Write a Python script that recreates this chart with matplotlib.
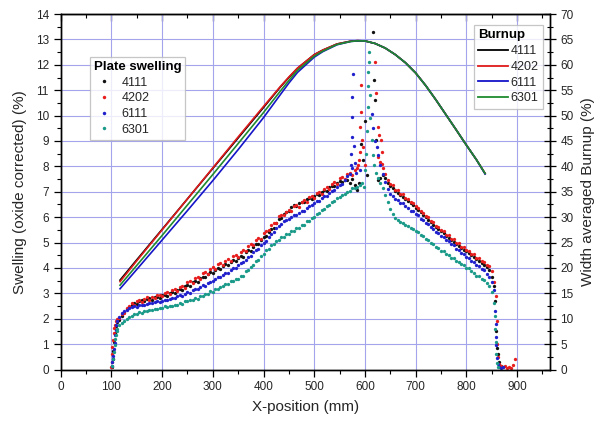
import matplotlib
matplotlib.use("Agg")
import matplotlib.pyplot as plt
from matplotlib.ticker import MultipleLocator
from matplotlib.lines import Line2D

plt.rcParams["font.family"] = ["Liberation Sans", "DejaVu Sans"]

# ---- data -------------------------------------------------------------
plates = ["4111", "4202", "6111", "6301"]

# swelling band sampled every 5 mm on both flanks of the centre peak
left_x = list(range(115, 581, 5))
right_x = list(range(625, 856, 5))

sw_4111_left = [
    1.96, 2.10, 2.28, 2.38, 2.45, 2.54, 2.62, 2.59, 2.70, 2.73,
    2.68, 2.77, 2.80, 2.74, 2.84, 2.86, 2.82, 2.92, 2.94, 2.91,
    3.03, 3.05, 3.01, 3.14, 3.17, 3.13, 3.29, 3.32, 3.28, 3.45,
    3.49, 3.44, 3.61, 3.66, 3.63, 3.77, 3.83, 3.80, 3.93, 3.99,
    3.96, 4.09, 4.15, 4.12, 4.24, 4.30, 4.28, 4.41, 4.47, 4.45,
    4.61, 4.69, 4.68, 4.84, 4.94, 4.96, 5.11, 5.21, 5.25, 5.42,
    5.53, 5.58, 5.78, 5.92, 5.98, 6.14, 6.20, 6.26, 6.40, 6.46,
    6.44, 6.56, 6.60, 6.58, 6.70, 6.74, 6.72, 6.84, 6.90, 6.88,
    7.00, 7.06, 7.04, 7.18, 7.24, 7.22, 7.36, 7.42, 7.40, 7.48,
    7.46, 7.36, 7.50, 7.26,
]
sw_4202_left = [
    2.02, 2.17, 2.23, 2.42, 2.50, 2.63, 2.56, 2.70, 2.75, 2.67,
    2.78, 2.84, 2.75, 2.87, 2.82, 2.93, 2.95, 2.88, 3.01, 3.06,
    2.97, 3.12, 3.16, 3.09, 3.25, 3.30, 3.22, 3.43, 3.49, 3.40,
    3.59, 3.65, 3.57, 3.80, 3.84, 3.78, 3.96, 4.04, 3.95, 4.14,
    4.19, 4.12, 4.28, 4.34, 4.26, 4.46, 4.51, 4.43, 4.62, 4.70,
    4.65, 4.88, 4.94, 4.90, 5.09, 5.19, 5.13, 5.38, 5.44, 5.50,
    5.68, 5.78, 5.76, 6.03, 6.10, 6.08, 6.22, 6.30, 6.25, 6.44,
    6.48, 6.41, 6.60, 6.66, 6.59, 6.78, 6.82, 6.76, 6.95, 7.00,
    6.93, 7.12, 7.18, 7.11, 7.30, 7.37, 7.32, 7.54, 7.58, 7.51,
    7.68, 7.74, 7.66, 7.84,
]
sw_6111_left = [
    2.07, 2.22, 2.30, 2.36, 2.42, 2.46, 2.49, 2.48, 2.54, 2.56,
    2.53, 2.59, 2.62, 2.60, 2.65, 2.68, 2.64, 2.70, 2.74, 2.72,
    2.79, 2.83, 2.81, 2.89, 2.93, 2.91, 2.99, 3.04, 3.03, 3.12,
    3.17, 3.16, 3.25, 3.31, 3.30, 3.40, 3.46, 3.47, 3.56, 3.63,
    3.64, 3.73, 3.81, 3.82, 3.91, 3.99, 4.01, 4.11, 4.19, 4.23,
    4.33, 4.43, 4.49, 4.61, 4.70, 4.76, 4.90, 4.99, 5.07, 5.23,
    5.33, 5.41, 5.56, 5.66, 5.72, 5.84, 5.90, 5.94, 6.02, 6.08,
    6.10, 6.18, 6.24, 6.26, 6.36, 6.44, 6.46, 6.56, 6.63, 6.65,
    6.75, 6.82, 6.84, 6.96, 7.03, 7.05, 7.17, 7.27, 7.31, 7.47,
    7.62, 7.70, 7.94, 8.14,
]
sw_6301_left = [
    1.75, 1.83, 1.93, 1.97, 2.08, 2.11, 2.20, 2.18, 2.26, 2.24,
    2.30, 2.31, 2.36, 2.33, 2.40, 2.39, 2.43, 2.42, 2.49, 2.45,
    2.52, 2.51, 2.55, 2.56, 2.63, 2.59, 2.68, 2.68, 2.73, 2.74,
    2.83, 2.79, 2.89, 2.90, 2.96, 2.98, 3.08, 3.04, 3.16, 3.17,
    3.24, 3.27, 3.38, 3.35, 3.47, 3.48, 3.55, 3.58, 3.69, 3.70,
    3.86, 3.90, 4.05, 4.12, 4.27, 4.32, 4.49, 4.54, 4.69, 4.76,
    4.91, 4.93, 5.08, 5.11, 5.22, 5.23, 5.34, 5.35, 5.46, 5.45,
    5.58, 5.59, 5.68, 5.71, 5.84, 5.85, 5.98, 6.00, 6.13, 6.16,
    6.29, 6.32, 6.45, 6.48, 6.61, 6.64, 6.77, 6.80, 6.89, 6.90,
    6.99, 7.02, 7.13, 7.14,
]

sw_4111_right = [
    7.45, 7.55, 7.65, 7.56, 7.36, 7.23, 7.13, 7.03, 6.95, 6.88,
    6.80, 6.72, 6.64, 6.54, 6.48, 6.38, 6.28, 6.20, 6.10, 6.00,
    5.90, 5.80, 5.70, 5.60, 5.52, 5.44, 5.36, 5.26, 5.18, 5.10,
    5.04, 4.96, 4.88, 4.80, 4.72, 4.66, 4.58, 4.50, 4.42, 4.36,
    4.28, 4.20, 4.12, 4.04, 3.90, 3.66, 3.30,
]
sw_4202_right = [
    8.35, 8.17, 7.93, 7.68, 7.46, 7.29, 7.25, 7.07, 7.05, 6.92,
    6.90, 6.76, 6.72, 6.58, 6.56, 6.42, 6.38, 6.24, 6.18, 6.04,
    6.00, 5.84, 5.80, 5.64, 5.62, 5.48, 5.45, 5.31, 5.29, 5.15,
    5.14, 5.00, 4.98, 4.84, 4.84, 4.70, 4.68, 4.54, 4.54, 4.40,
    4.38, 4.26, 4.24, 4.10, 4.08, 3.86, 3.46,
]
sw_6111_right = [
    8.45, 8.05, 7.68, 7.37, 7.11, 6.90, 6.84, 6.72, 6.68, 6.56,
    6.54, 6.42, 6.38, 6.26, 6.24, 6.12, 6.08, 5.94, 5.90, 5.78,
    5.73, 5.61, 5.55, 5.43, 5.39, 5.27, 5.21, 5.09, 5.05, 4.93,
    4.90, 4.76, 4.72, 4.60, 4.56, 4.44, 4.40, 4.28, 4.24, 4.12,
    4.08, 3.96, 3.92, 3.78, 3.66, 3.46, 3.14,
]
sw_6301_right = [
    7.56, 7.36, 7.13, 6.87, 6.59, 6.34, 6.12, 5.96, 5.90, 5.80,
    5.78, 5.68, 5.66, 5.56, 5.54, 5.46, 5.42, 5.30, 5.27, 5.15,
    5.11, 4.99, 4.95, 4.84, 4.80, 4.68, 4.66, 4.54, 4.52, 4.40,
    4.38, 4.26, 4.24, 4.14, 4.10, 4.00, 3.98, 3.86, 3.82, 3.70,
    3.67, 3.55, 3.53, 3.39, 3.28, 3.04, 2.62,
]

# plate edges, centre spikes and tails
sw_4111_extra_x = [101, 102.5, 104, 106, 108, 110, 112,
                   584, 588, 592, 596, 600, 605, 615, 617, 619, 621,
                   856, 858, 860, 862, 864, 868]
sw_4111_extra_y = [0.10, 0.40, 0.72, 1.08, 1.42, 1.70, 1.88,
                   7.05, 7.35, 8.90, 8.25, 9.80, 7.65, 13.30, 11.40, 10.60, 9.05,
                   2.70, 1.50, 0.85, 0.60, 0.30, 0.12]
sw_4202_extra_x = [100, 100.5, 101, 102, 103, 104.5, 106, 108, 110, 112,
                   585, 587, 588, 590, 591, 592, 593, 594, 596, 600,
                   620, 622, 626, 628, 631, 633, 634,
                   858, 860, 861, 862, 864, 868, 872, 876, 880, 884, 888, 892, 896]
sw_4202_extra_y = [0.08, 0.30, 0.60, 0.88, 1.18, 1.42, 1.62, 1.77, 1.90, 1.97,
                   7.95, 8.05, 8.25, 8.55, 9.55, 10.15, 11.20, 9.05, 8.75, 8.05,
                   12.10, 10.90, 9.55, 9.25, 9.05, 8.55, 8.10,
                   2.90, 1.90, 1.00, 0.50, 0.22, 0.14, 0.08, 0.12, 0.06, 0.10, 0.05, 0.16, 0.42]
sw_6111_extra_x = [101.5, 102, 103, 105, 107, 108, 109, 110, 112,
                   572, 573, 574, 574.5, 575, 576, 578, 583, 590, 613, 616, 619, 623,
                   857, 858, 859, 859.5, 860, 862, 864, 868, 872]
sw_6111_extra_y = [0.12, 0.30, 0.55, 0.82, 1.05, 1.35, 1.55, 1.75, 1.92,
                   8.05, 8.50, 9.15, 9.95, 10.75, 11.65, 8.80, 7.75, 7.85, 10.05, 9.50, 9.00, 8.75,
                   2.30, 1.80, 1.30, 0.95, 0.45, 0.20, 0.08, 0.06, 0.10]
sw_6301_extra_x = [102, 103.5, 105, 106.5, 108, 109, 110.5, 112,
                   585, 590, 595, 598, 600, 603, 604, 606, 606.5, 607, 607.5, 608,
                   610, 611, 613, 615, 618, 621,
                   856, 857, 858, 859, 861, 863]
sw_6301_extra_y = [0.12, 0.40, 0.70, 0.98, 1.22, 1.36, 1.50, 1.60,
                   7.20, 7.28, 7.36, 7.20, 7.85, 8.50, 9.40, 10.35, 11.15, 11.70, 12.10, 12.50,
                   10.80, 9.90, 9.05, 8.45, 8.05, 7.75,
                   2.10, 1.60, 1.10, 0.60, 0.25, 0.08]

# width averaged burnup (%)
burnup_x = [117, 150, 200, 250, 300, 350, 400, 433, 450, 467,
            500, 517, 545, 572, 585, 600, 620, 640, 660, 680,
            700, 720, 740, 761, 780, 798, 820, 837]
bu_4111 = [17.6, 21.6, 27.6, 33.6, 39.6, 45.6, 51.6, 55.6, 57.5, 59.3,
           62.0, 62.9, 64.1, 64.65, 64.75, 64.7, 64.2, 63.3, 62.0, 60.4,
           58.4, 55.9, 53.1, 50.0, 47.2, 44.5, 41.3, 38.6]
bu_4202 = [17.3, 21.4, 27.5, 33.6, 39.7, 45.8, 51.8, 55.7, 57.6, 59.35,
           62.0, 62.9, 64.1, 64.65, 64.75, 64.7, 64.2, 63.3, 62.0, 60.4,
           58.4, 55.9, 53.1, 50.0, 47.2, 44.5, 41.3, 38.6]
bu_6111 = [15.9, 19.7, 25.5, 31.3, 37.2, 43.3, 49.6, 54.1, 56.4, 58.5,
           61.5, 62.6, 63.95, 64.6, 64.7, 64.7, 64.2, 63.3, 62.0, 60.4,
           58.4, 55.9, 53.1, 50.0, 47.2, 44.5, 41.3, 38.5]
bu_6301 = [16.6, 20.5, 26.4, 32.4, 38.4, 44.5, 50.6, 54.8, 56.9, 58.9,
           61.7, 62.7, 64.0, 64.6, 64.72, 64.7, 64.2, 63.3, 62.0, 60.4,
           58.4, 55.9, 53.1, 50.0, 47.2, 44.5, 41.3, 38.6]

swell_left = [sw_4111_left, sw_4202_left, sw_6111_left, sw_6301_left]
swell_right = [sw_4111_right, sw_4202_right, sw_6111_right, sw_6301_right]
swell_ex_x = [sw_4111_extra_x, sw_4202_extra_x, sw_6111_extra_x, sw_6301_extra_x]
swell_ex_y = [sw_4111_extra_y, sw_4202_extra_y, sw_6111_extra_y, sw_6301_extra_y]
burnups = [bu_4111, bu_4202, bu_6111, bu_6301]

dot_colors = ["#111111", "#e81e1e", "#2020cc", "#1a9a88"]
line_colors = ["#000000", "#e01a1a", "#1515c8", "#1f8a2e"]
text_col = "#262626"

# ---- figure -----------------------------------------------------------
fig = plt.figure(figsize=(5.94, 4.21), dpi=100)
ax = fig.add_axes([0.1022, 0.1223, 0.8237, 0.8444])

for i, name in enumerate(plates):
    xs = left_x + right_x + swell_ex_x[i]
    ys = swell_left[i] + swell_right[i] + swell_ex_y[i]
    ax.plot(xs, ys, linestyle="none", marker="o", ms=2.4, mew=0,
            color=dot_colors[i], label=name)

ax.set_xlim(0, 965)
ax.set_ylim(0, 14)
ax.xaxis.set_major_locator(MultipleLocator(100))
ax.xaxis.set_minor_locator(MultipleLocator(50))
ax.yaxis.set_major_locator(MultipleLocator(1))
ax.yaxis.set_minor_locator(MultipleLocator(0.5))
ax.grid(True, which="major", color="#a4a4ec", lw=0.8)
ax.set_axisbelow(True)
ax.tick_params(which="both", direction="out", labelsize=8.5, labelcolor=text_col,
               right=False, top=False)
ax.tick_params(which="major", length=5, width=0.9)
ax.tick_params(which="minor", length=3, width=0.8)
ax.set_xlabel("X-position (mm)", fontsize=11, color=text_col, labelpad=5)
ax.set_ylabel("Swelling (oxide corrected) (%)", fontsize=11, color=text_col, labelpad=6)

top = ax.secondary_xaxis("top")
top.xaxis.set_major_locator(MultipleLocator(100))
top.xaxis.set_minor_locator(MultipleLocator(50))
top.tick_params(which="both", direction="in", labeltop=False)
top.tick_params(which="major", length=5, width=0.9)
top.tick_params(which="minor", length=3, width=0.8)

ax2 = ax.twinx()
for i, name in enumerate(plates):
    ax2.plot(burnup_x, burnups[i], color=line_colors[i], lw=1.2, label=name)
ax2.set_ylim(0, 70)
ax2.yaxis.set_major_locator(MultipleLocator(5))
ax2.yaxis.set_minor_locator(MultipleLocator(2.5))
ax2.tick_params(which="both", direction="inout", labelsize=8.5, labelcolor=text_col)
ax2.tick_params(which="major", length=8, width=0.9)
ax2.tick_params(which="minor", length=5, width=0.8)
ax2.set_ylabel("Width averaged Burnup (%)", fontsize=11, color=text_col, labelpad=5)

for a in (ax, ax2):
    for s in a.spines.values():
        s.set_linewidth(1.0)

# legends
sw_handles = [Line2D([], [], linestyle="none", marker="o", ms=2.5, mew=0,
                     color=c) for c in dot_colors]
leg1 = ax2.legend(sw_handles, plates, title="Plate swelling", loc="upper left",
                  bbox_to_anchor=(0.060, 0.879), borderaxespad=0, fontsize=9,
                  frameon=True, fancybox=False, edgecolor="#b8b8b8",
                  handlelength=1.6, handletextpad=0.6, labelspacing=0.3,
                  borderpad=0.3, alignment="left")
leg1.get_title().set_fontweight("bold")
leg1.get_title().set_fontsize(9.5)
leg1.get_frame().set_linewidth(0.9)
for t in leg1.get_texts():
    t.set_color(text_col)
ax2.add_artist(leg1)

bu_handles = [Line2D([], [], color=c, lw=1.3) for c in line_colors]
leg2 = ax2.legend(bu_handles, plates, title="Burnup", loc="upper right",
                  bbox_to_anchor=(0.986, 0.969), borderaxespad=0, fontsize=9,
                  frameon=True, fancybox=False, edgecolor="#b8b8b8",
                  handlelength=2.4, handletextpad=0.2, labelspacing=0.3,
                  borderpad=0.35, alignment="left")
leg2.get_title().set_fontweight("bold")
leg2.get_title().set_fontsize(9.5)
leg2.get_frame().set_linewidth(0.9)
for t in leg2.get_texts():
    t.set_color(text_col)

fig.savefig("out.png", dpi=100)
